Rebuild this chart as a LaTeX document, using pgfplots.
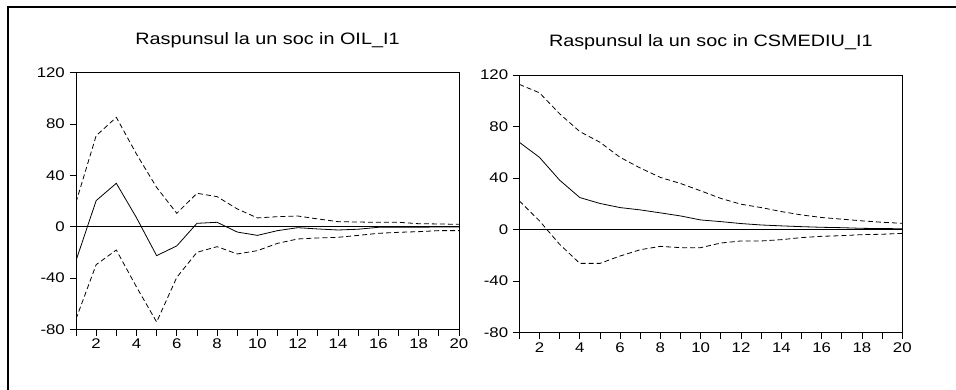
\documentclass[border=0pt]{standalone}
\usepackage{fontspec}
\setmainfont{Liberation Sans}[FakeStretch=1.2]
\usepackage{pgfplots}
\usepackage{pgfplotstable}
\pgfplotsset{compat=1.18}

% Impulse responses with +/- 2 S.E. bands
\pgfplotstableread{
k  resp   lo     hi
1  -26.5  -72.0  19.0
2   20.3  -29.6  70.9
3   33.8  -18.2  85.2
4    7.0  -47.0  56.6
5  -22.6  -74.3  30.6
6  -15.0  -39.5  10.4
7    2.6  -20.0  26.0
8    3.4  -15.6  23.4
9   -4.2  -21.3  13.8
10  -6.8  -18.7   6.8
11  -3.1  -13.0   7.8
12  -0.8   -9.6   8.3
13  -1.8   -8.8   6.0
14  -2.6   -8.3   3.9
15  -2.0   -6.8   3.6
16  -0.5   -5.2   3.4
17  -0.5   -4.4   3.4
18  -0.4   -3.9   2.3
19  -0.3   -3.1   2.1
20  -0.3   -3.1   1.8
}\oilshock

\pgfplotstableread{
k  resp   lo     hi
1   67.8   22.3  112.7
2   56.1    6.8  106.2
3   38.4  -11.4   89.9
4   24.9  -26.2   76.1
5   20.3  -26.2   67.8
6   17.1  -20.5   56.1
7   15.3  -15.6   47.8
8   13.0  -13.0   40.5
9   10.6  -14.0   35.8
10   7.5  -14.0   30.1
11   6.2  -10.4   24.2
12   4.7   -8.8   19.7
13   3.6   -8.8   17.1
14   2.9   -7.8   14.0
15   2.3   -6.2   11.4
16   1.8   -5.2    9.4
17   1.5   -4.7    8.1
18   1.0   -3.9    6.8
19   0.8   -3.6    5.7
20   0.7   -2.9    4.9
}\csshock

\pgfplotsset{
  irf/.style={
    scale only axis, width=383pt,
    xmin=1, xmax=20, ymin=-80, ymax=120,
    xtick={1,...,20},
    xticklabels={{},2,{},4,{},6,{},8,{},10,{},12,{},14,{},16,{},18,{},20},
    ytick={-80,-40,0,40,80,120},
    yticklabels={-80,-40,0,40,80,120},
    tick pos=left, tick align=outside, major tick length=6.5pt,
    tick style={black, line width=0.8pt},
    axis line style={line width=0.9pt},
    tick label style={font=\fontsize{14}{16}\selectfont, inner sep=0pt},
    xticklabel style={yshift=-3pt},
    yticklabel style={xshift=-4.5pt},
    title style={font=\fontsize{16.5}{19}\selectfont, at={(0.5,1)}, anchor=base, yshift=22pt},
  },
  resp/.style={black, line width=0.8pt},
  band/.style={black, line width=0.8pt, dash pattern=on 5pt off 3pt},
  zero/.style={black, line width=0.8pt},
}

\begin{document}
\begin{tikzpicture}[x=1pt, y=1pt]
\path[use as bounding box] (0,0) rectangle (956,390);
\draw[line width=2pt] (8.3,0) -- (8.3,383.3) -- (956,383.3);

\begin{axis}[irf, height=256.6pt, at={(76pt,60.7pt)}, anchor=south west,
  title={Raspunsul la un soc in OIL\_I1}]
  \addplot[zero] coordinates {(1,0) (20,0)};
  \addplot[band] table[x=k, y=hi] {\oilshock};
  \addplot[band] table[x=k, y=lo] {\oilshock};
  \addplot[resp] table[x=k, y=resp] {\oilshock};
\end{axis}

\begin{axis}[irf, height=257.7pt, at={(519.3pt,57.3pt)}, anchor=south west,
  title={Raspunsul la un soc in CSMEDIU\_I1}]
  \addplot[zero] coordinates {(1,0) (20,0)};
  \addplot[band] table[x=k, y=hi] {\csshock};
  \addplot[band] table[x=k, y=lo] {\csshock};
  \addplot[resp] table[x=k, y=resp] {\csshock};
\end{axis}
\end{tikzpicture}
\end{document}
